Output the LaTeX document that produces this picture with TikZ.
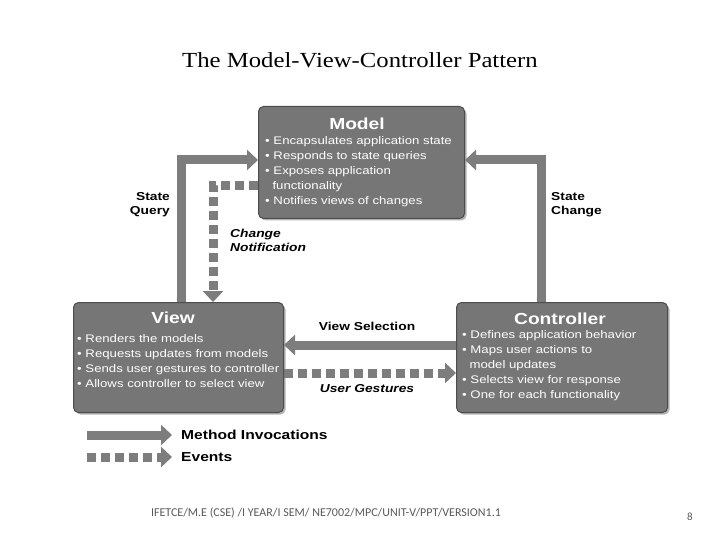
\documentclass[tikz,border=0pt]{standalone}
\usepackage{fontspec}
\setmainfont{Liberation Serif}
\newfontfamily\titf{Liberation Serif}[FakeStretch=1.15]
\newfontfamily\sansf{Liberation Sans}[FakeStretch=1.2]
\newfontfamily\calib{Carlito}
\usetikzlibrary{arrows.meta,shadows,backgrounds}
\definecolor{boxg}{RGB}{118,118,118}
\definecolor{arrg}{RGB}{125,125,125}
\begin{document}
\begin{tikzpicture}[x=1pt,y=-1pt,
  box/.style={draw=black!70,line width=1pt,rounded corners=5pt,fill=boxg,
    drop shadow={shadow xshift=2pt,shadow yshift=-2pt,opacity=0.6},inner sep=0},
  ttl/.style={font=\sansf\bfseries\fontsize{16}{16}\selectfont,text=white},
  bul/.style={font=\sansf\fontsize{11}{15}\selectfont,text=white,align=left,anchor=north west,inner sep=0},
  lab/.style={font=\sansf\bfseries\fontsize{11.5}{14}\selectfont,align=left,inner sep=0},
  labi/.style={lab,font=\sansf\bfseries\itshape\fontsize{11.5}{14}\selectfont},
  meth/.style={draw=arrg,line width=9pt,-{Triangle[length=11pt,width=20pt]}},
  evt/.style={draw=arrg,line width=9pt,dash pattern=on 9pt off 5pt,-{Triangle[length=11pt,width=20pt]}}]
\useasboundingbox (0,0) rectangle (720,540);
\node[font=\titf\fontsize{21.5}{24}\selectfont] (title) at (360,60) {The Model-View-Controller Pattern};
\coordinate (sqc) at (181,160);
\coordinate (scc) at (541,160);
\coordinate (cnc) at (213,186);
\node[box,minimum width=206,minimum height=112,anchor=north west] (model) at (258,106) {};
\node[box,minimum width=210,minimum height=110,anchor=north west] (view) at (73,302) {};
\node[box,minimum width=211,minimum height=110,anchor=north west] (ctrl) at (456,302) {};
\begin{scope}[on background layer]
\draw[meth] (sqc |- view.north) -- (sqc) -- (model.west |- sqc);
\draw[meth] (scc |- ctrl.north) -- (scc) -- (model.east |- scc);
\draw[evt] (model.west |- cnc) -- (cnc) -- (cnc |- view.north);
\draw[meth] (ctrl.west |- 0,345) -- (view.east |- 0,345);
\draw[evt] (view.east |- 0,373) -- (ctrl.west |- 0,373);
\end{scope}
\node[ttl] (mt) at (357,124) {Model};
\node[bul] (mb) at (265,136) {• Encapsulates application state\\• Responds to state queries\\• Exposes application\\\ \ functionality\\• Notifies views of changes};
\node[ttl] (vt) at (173,318) {View};
\node[bul] (vb) at (77,334) {• Renders the models\\• Requests updates from models\\• Sends user gestures to controller\\• Allows controller to select view};
\node[ttl] (ct) at (560,319) {Controller};
\node[bul] (cb) at (462,330) {• Defines application behavior\\• Maps user actions to\\\ \ model updates\\• Selects view for response\\• One for each functionality};
\node[lab,align=right,anchor=north east] (sq) at (170,192) {State\\Query};
\node[lab,anchor=north west] (sc) at (551,192) {State\\Change};
\node[labi,anchor=north west] (cn) at (230,229) {Change\\Notification};
\node[lab] (vs) at (367,326) {View Selection};
\node[labi] (ug) at (367,389) {User Gestures};
\coordinate (m1) at (87,435); \coordinate (m2) at (172,435);
\coordinate (e1) at (87,457); \coordinate (e2) at (172,457);
\draw[meth] (m1) -- (m2);
\draw[evt] (e1) -- (e2);
\node[lab,font=\sansf\bfseries\fontsize{13}{14}\selectfont,anchor=west] (mi) at (181,435) {Method Invocations};
\node[lab,font=\sansf\bfseries\fontsize{13}{14}\selectfont,anchor=west] (ev) at (181,457) {Events};
\node[font=\calib\fontsize{12}{14}\selectfont,text=black!65] (foot) at (326,513) {IFETCE/M.E (CSE) /I YEAR/I SEM/ NE7002/MPC/UNIT-V/PPT/VERSION1.1};
\node[font=\calib\fontsize{11}{13}\selectfont,text=black!65] (pg) at (690,517) {8};
\end{tikzpicture}
\end{document}
